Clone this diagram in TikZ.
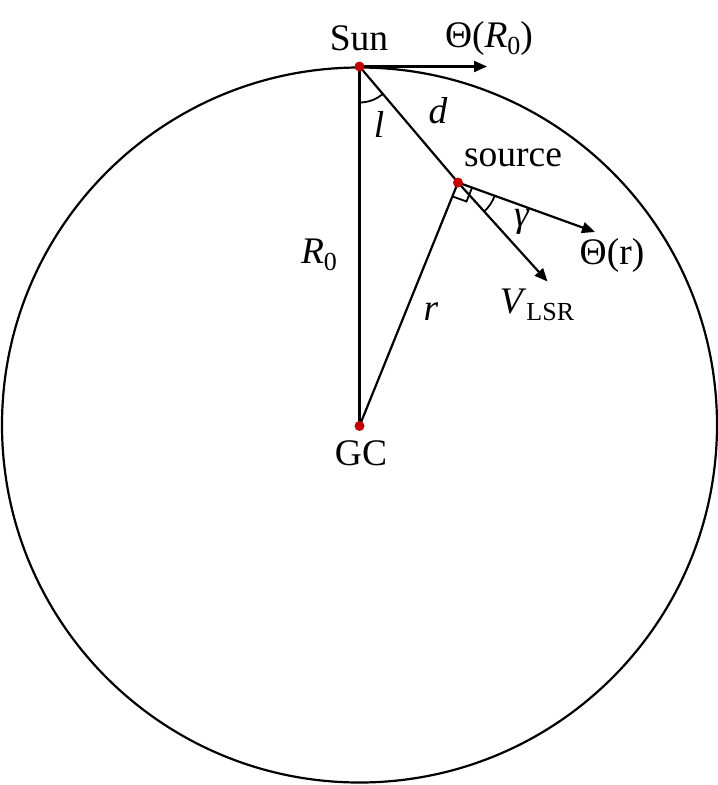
\documentclass[tikz,border=0pt]{standalone}
\usepackage{fontspec}
\setmainfont{Liberation Serif}
\usetikzlibrary{arrows.meta,calc}
\definecolor{dotred}{RGB}{196,0,0}
\newcommand{\subsc}[1]{\raisebox{-7pt}{\fontsize{26}{26}\selectfont #1}}
\begin{document}
\begin{tikzpicture}[x=1pt,y=-1pt,line width=2.2pt,
  lbl/.style={anchor=base,inner sep=0pt,font=\fontsize{37.5}{42}\selectfont},
  vec/.style={-{Triangle[length=13pt,width=11pt]}},
  dot/.style={circle,fill=dotred,draw=none,inner sep=0pt,minimum size=10pt}]
\useasboundingbox (0,0) rectangle (718,785);
\fill[white] (0,0) rectangle (718,785);
\coordinate (C) at (359.5,425);
\draw (C) circle[radius=357.5pt];
\coordinate (sun) at (359.5,66.5);
\coordinate (gc) at (359.5,426);
\coordinate (src) at (458,182.5);
\coordinate (thR0) at (487,66.5);
\coordinate (thr) at (595,232);
\coordinate (vlsr) at (547.5,281.5);
% lines
\draw (sun) -- (gc);
\draw (sun) -- (src);
\draw (src) -- (gc);
% vectors
\draw[vec] (sun) -- (thR0);
\draw[vec] (src) -- (thr);
\draw[vec] (src) -- (vlsr);
% angle l
\draw[line width=1.8pt] ([shift={(90:36)}]sun) arc[start angle=90,end angle=49.7,radius=36];
% angle gamma
\draw[line width=1.8pt] ([shift={(20.2:39)}]src) arc[start angle=20.2,end angle=47.9,radius=39];
% right angle mark
\coordinate (ra1) at ($(src)!15pt!(gc)$);
\coordinate (ra3) at ($(src)!15pt!(thr)$);
\coordinate (ra2) at ($(ra1)+(ra3)-(src)$);
\draw[line width=1.8pt] (ra1) -- (ra2) -- (ra3);
% dots
\node[dot] (sundot) at (sun) {};
\node[dot] (srcdot) at (src) {};
\node[dot] (gcdot) at (gc) {};
% labels
\node[lbl] (sunl) at (359,50) {Sun};
\node[lbl] (thR0l) at (489,47.5) {Θ(\textit{R}\subsc{0})};
\node[lbl] (dl) at (438,123) {\textit{d}};
\node[lbl] (ll) at (379,137) {\textit{l}};
\node[lbl] (srcl) at (513,166) {source};
\node[lbl] (gl) at (522,226) {\textit{γ}};
\node[lbl] (thrl) at (612,264) {Θ(r)};
\node[lbl] (R0l) at (319,263) {\textit{R}\subsc{0}};
\node[lbl] (rl) at (431,320) {\textit{r}};
\node[lbl] (vl) at (537,313) {\textit{V}\subsc{LSR}};
\node[lbl] (gcl) at (361,465) {GC};
\end{tikzpicture}
\end{document}
